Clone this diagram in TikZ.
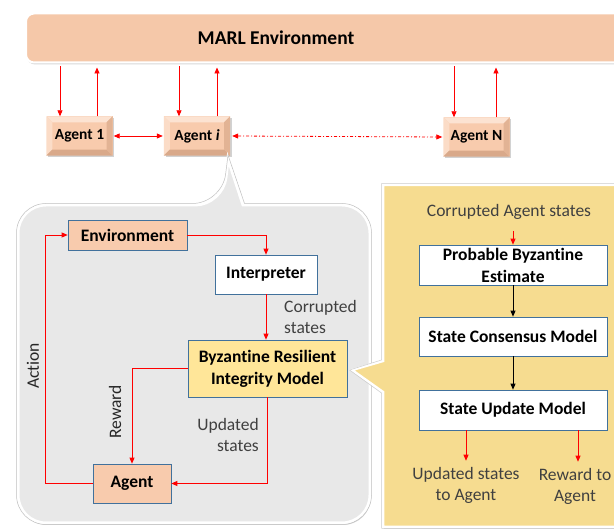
\documentclass[tikz,border=0pt]{standalone}
\usepackage{fontspec}
\setmainfont[Ligatures={NoCommon}]{Carlito}
\usetikzlibrary{arrows.meta,shadows,calc}
\definecolor{peach}{HTML}{F8CBAD}
\definecolor{marlfill}{HTML}{F5C8A9}
\definecolor{peachlight}{HTML}{FCE3D2}
\definecolor{peachdark}{HTML}{D9A98A}
\definecolor{grayfill}{HTML}{E8E8E8}
\definecolor{yelbox}{HTML}{FFE699}
\definecolor{yelcall}{HTML}{F6DC90}
\definecolor{boxline}{HTML}{41719C}
\definecolor{arrred}{HTML}{FF0000}
\definecolor{lbltext}{HTML}{404040}
\begin{document}
\begin{tikzpicture}[x=1pt,y=-1pt,
  arr/.style={draw=arrred,line width=0.8pt,-{Triangle[length=6pt,width=5pt]}},
  barr/.style={draw=black,line width=0.8pt,-{Triangle[length=6pt,width=5pt]}},
  dblarr/.style={draw=arrred,line width=0.8pt,{Triangle[length=6pt,width=5pt]}-{Triangle[length=6pt,width=5pt]}},
  agentbox/.style={fill=peach,minimum height=39pt,inner sep=0pt,
    drop shadow={shadow xshift=1.5pt,shadow yshift=-1.5pt,opacity=0.35}},
  agenttxt/.style={inner sep=0pt,font=\fontsize{15.5}{18}\selectfont\bfseries},
  innerbox/.style={draw=boxline,line width=0.7pt,inner sep=0pt,align=center,font=\fontsize{17.5}{22}\selectfont\bfseries},
  lbl/.style={inner sep=0pt,font=\fontsize{17.5}{21}\selectfont,text=lbltext},
  lblr/.style={inner sep=0pt,font=\fontsize{17.5}{21}\selectfont,text=black!85},
]
\useasboundingbox (0,0) rectangle (614,529);
\fill[white] (0,0) rectangle (614,529);

% MARL bar
\node[fill=marlfill,draw=white,line width=2pt,rounded corners=8pt,minimum width=640pt,minimum height=49pt,
  drop shadow={shadow xshift=1pt,shadow yshift=-2pt,opacity=0.3}] (marl) at (346,38) {};
\node[font=\fontsize{19.5}{22}\selectfont\bfseries] (marltxt) at (276,38) {MARL Environment};

% agents
\newcommand{\bevelbox}[1]{%
  \fill[peachlight] (#1.north west) -- (#1.north east) -- ([shift={(-6pt,-6pt)}]#1.north east) -- ([shift={(6pt,-6pt)}]#1.north west) -- cycle;
  \fill[peachlight!70!peach] (#1.north west) -- (#1.south west) -- ([shift={(6pt,6pt)}]#1.south west) -- ([shift={(6pt,-6pt)}]#1.north west) -- cycle;
  \fill[peachdark] (#1.south west) -- (#1.south east) -- ([shift={(-6pt,6pt)}]#1.south east) -- ([shift={(6pt,6pt)}]#1.south west) -- cycle;
  \fill[peachdark!70!peach] (#1.north east) -- (#1.south east) -- ([shift={(-6pt,6pt)}]#1.south east) -- ([shift={(-6pt,-6pt)}]#1.north east) -- cycle;
}
\node[agentbox,minimum width=66pt] (a1) at (79.5,136) {};
\bevelbox{a1}
\node[agenttxt] (a1t) at (a1) {Agent 1};
\node[agentbox,minimum width=66pt] (ai) at (197,136) {};
\bevelbox{ai}
\node[agenttxt] (ait) at (ai) {Agent \textit{i}};
\node[agentbox,minimum width=66pt] (aN) at (476.5,137) {};
\bevelbox{aN}
\node[agenttxt] (aNt) at (aN) {Agent N};

\draw[arr] ([xshift=-19.5pt]a1.north |- marl.south) ++(0,3) -- ([xshift=-19.5pt]a1.north);
\draw[arr] ([xshift=17.5pt]a1.north) -- ([xshift=17.5pt,yshift=-4pt]a1.north |- marl.south);
\draw[arr] ([xshift=-18pt]ai.north |- marl.south) ++(0,3) -- ([xshift=-18pt]ai.north);
\draw[arr] ([xshift=20pt]ai.north) -- ([xshift=20pt,yshift=-4pt]ai.north |- marl.south);
\draw[arr] ([xshift=-22.5pt]aN.north |- marl.south) ++(0,3) -- ([xshift=-22.5pt]aN.north);
\draw[arr] ([xshift=19.5pt]aN.north) -- ([xshift=19.5pt,yshift=-4pt]aN.north |- marl.south);

\draw[dblarr] ([xshift=1pt]a1.east) -- ([xshift=-1pt]ai.west);
\draw[dblarr,dash pattern=on 3pt off 2pt on 1pt off 2pt] ([xshift=2pt]ai.east) -- ([xshift=-1pt]aN.west);

% gray callout
\path[fill=grayfill,draw=white,line width=3pt,drop shadow={shadow xshift=1pt,shadow yshift=-2pt,opacity=0.35}]
  [rounded corners=28pt] (18,360) -- (18,205) -- (223,205) [sharp corners] -- (228,159) -- (243,205)
  [rounded corners=28pt] -- (370,205) -- (370,523) -- (18,523) -- cycle;
\draw[draw=black!25,line width=0.5pt]
  [rounded corners=29.5pt] (16.5,360) -- (16.5,203.5) -- (222,203.5) [sharp corners] -- (228,155) -- (244.5,203.5)
  [rounded corners=29.5pt] -- (371.5,203.5) -- (371.5,524.5) -- (16.5,524.5) -- cycle;

% yellow callout
\path[fill=yelcall,draw=white,line width=2.5pt,drop shadow={shadow xshift=1pt,shadow yshift=-2pt,opacity=0.3}]
  (383,185) -- (640,185) -- (640,527) -- (383,527) -- (383,392) -- (352,370) -- (383,361) -- cycle;
\draw[black!20,line width=0.5pt]
  (381.5,183.5) -- (640,183.5) (381.5,528.5) -- (640,528.5)
  (381.5,183.5) -- (381.5,360) -- (349.5,370) -- (381.5,393) -- (381.5,528.5);

% inner gray diagram
\node[innerbox,fill=peach,minimum width=119pt,minimum height=30pt] (env) at (127.5,235) {Environment};
\node[innerbox,fill=white,minimum width=102pt,minimum height=39pt] (interp) at (266,274.5) {Interpreter};
\node[innerbox,fill=yelbox,minimum width=159pt,minimum height=57pt] (brim) at (267.5,368.5) {Byzantine Resilient\\Integrity Model};
\node[innerbox,fill=peach,minimum width=78pt,minimum height=39pt] (agent) at (132,483.5) {Agent};
\coordinate (actcorner) at (45,235);

\draw[arr] (env.east) -| (interp.north);
\draw[arr] (interp.south) -- (interp.south |- brim.north);
\draw[arr] (brim.west) -| (agent.north);
\draw[arr] (brim.south) |- (agent.east);
\draw[arr] (agent.west) -| (actcorner) |- (env.west);

\node[lbl,anchor=west,align=left] (cs) at (284,317) {Corrupted\\states};
\node[lbl,anchor=east,align=right] (us) at (259,435) {Updated\\states};
\node[lblr,rotate=90] (rw) at (115,412) {Reward};
\node[lblr,rotate=90] (ac) at (33,366) {Action};

% yellow diagram
\node[lbl] (cas) at (509,212) {Corrupted Agent states};
\node[innerbox,fill=white,minimum width=188pt,minimum height=40pt] (pbe) at (513,265) {Probable Byzantine\\Estimate};
\node[innerbox,fill=white,minimum width=188pt,minimum height=39pt] (scm) at (513,336.5) {State Consensus Model};
\node[innerbox,fill=white,minimum width=188pt,minimum height=40pt] (sum) at (513,410) {State Update Model};
\node[lbl,align=center] (ust) at (466,485) {Updated states\\to Agent};
\node[lbl,align=center] (rta) at (575,486) {Reward to\\Agent};

\draw[arr] ([yshift=-11pt]cas.south -| pbe.north) -- (pbe.north);
\draw[barr] (pbe.south) -- (scm.north);
\draw[barr] (scm.south) -- (sum.north);
\draw[arr] (sum.south -| ust.north) -- ([yshift=6pt]ust.north);
\draw[arr] ([xshift=3pt]sum.south -| rta.north) -- ([xshift=3pt,yshift=6pt]rta.north);
\end{tikzpicture}
\end{document}
